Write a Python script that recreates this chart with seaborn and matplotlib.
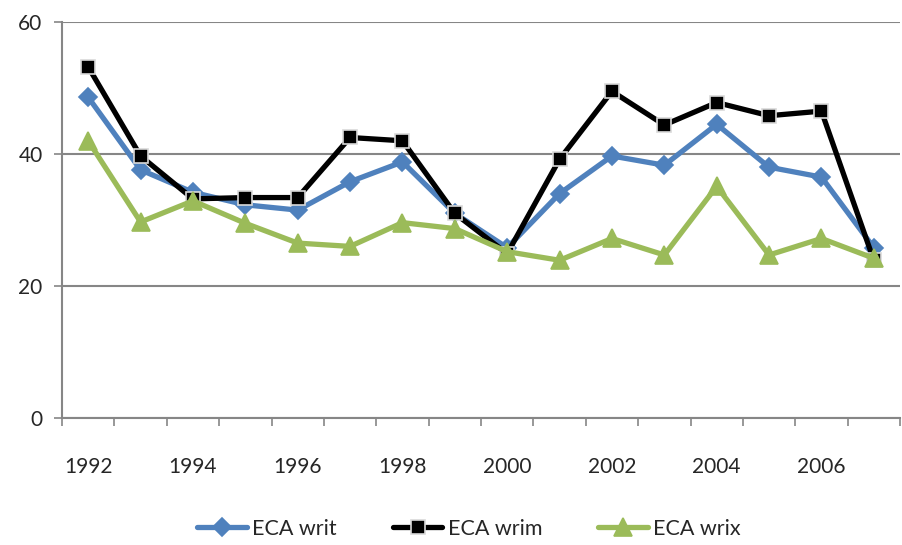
import matplotlib
matplotlib.use("Agg")
import matplotlib.pyplot as plt
import seaborn as sns
import pandas as pd
from matplotlib.ticker import FixedLocator

years = list(range(1992, 2008))
eca_writ = [48.6, 37.6, 34.2, 32.3, 31.5, 35.8, 38.8, 31.0, 25.8, 34.0, 39.7, 38.3, 44.5, 38.0, 36.5, 25.8]
eca_wrim = [53.2, 39.7, 33.2, 33.4, 33.4, 42.5, 42.0, 31.0, 24.9, 39.2, 49.5, 44.4, 47.8, 45.8, 46.5, 23.9]
eca_wrix = [42.0, 29.7, 32.9, 29.5, 26.5, 26.0, 29.6, 28.7, 25.2, 23.9, 27.2, 24.7, 35.1, 24.7, 27.2, 24.2]
series_names = ["ECA writ", "ECA wrim", "ECA wrix"]
tick_years = [1992, 1994, 1996, 1998, 2000, 2002, 2004, 2006]

sns.set_theme(style="white")
plt.rcParams["font.family"] = ["Lato", "DejaVu Sans"]

pos = list(range(len(years)))
df = pd.DataFrame({"pos": pos, "ECA writ": eca_writ, "ECA wrim": eca_wrim, "ECA wrix": eca_wrix})

fig = plt.figure(figsize=(9.02, 5.45), dpi=100)
ax = fig.add_axes([62 / 902, 127 / 545, 838 / 902, 396 / 545])

styles = {
    "ECA writ": dict(color="#4F81BD", marker="D", markersize=10.5, mec="#4F81BD"),
    "ECA wrim": dict(color="#000000", marker="s", markersize=12, mec="#D9D9D9"),
    "ECA wrix": dict(color="#9BBB59", marker="^", markersize=15, mec="#9BBB59"),
}
for name in series_names:
    st = styles[name]
    sns.lineplot(data=df, x="pos", y=name, ax=ax, color=st["color"], linewidth=3.8,
                 marker=st["marker"], markersize=st["markersize"],
                 markeredgecolor=st["mec"], markeredgewidth=1.2, label=name, legend=False)

ax.set_xlim(-0.5, len(years) - 0.5)
ax.set_ylim(0, 60)
ax.set_yticks([0, 20, 40, 60])
ax.set_yticklabels(["0", "20", "40", "60"], fontsize=15)
ax.yaxis.grid(True, color="#868686", linewidth=1.5)
ax.set_axisbelow(True)

ax.set_xticks([years.index(y) for y in tick_years])
ax.set_xticklabels([str(y) for y in tick_years], fontsize=15)
ax.xaxis.set_minor_locator(FixedLocator([i - 0.5 for i in range(len(years) + 1)]))
ax.tick_params(axis="x", which="major", length=0, pad=28)
ax.tick_params(axis="x", which="minor", length=6, width=1.2, color="#868686", direction="out", bottom=True)
ax.tick_params(axis="y", length=6, width=1.2, color="#868686", direction="out", left=True, pad=8)

for side in ["top", "right"]:
    ax.spines[side].set_visible(False)
for side in ["left", "bottom"]:
    ax.spines[side].set_color("#868686")
    ax.spines[side].set_linewidth(1.5)
ax.set_xlabel("")
ax.set_ylabel("")

handles, labels = ax.get_legend_handles_labels()
for h in handles:
    h.set_markersize(h.get_markersize() * 0.85)
fig.legend(handles, labels, loc="center", bbox_to_anchor=(0.52, 0.03), ncol=3, frameon=False,
           fontsize=15.5, handlelength=2.3, columnspacing=2.6, handletextpad=0.25)

fig.savefig("out.png", dpi=100)
